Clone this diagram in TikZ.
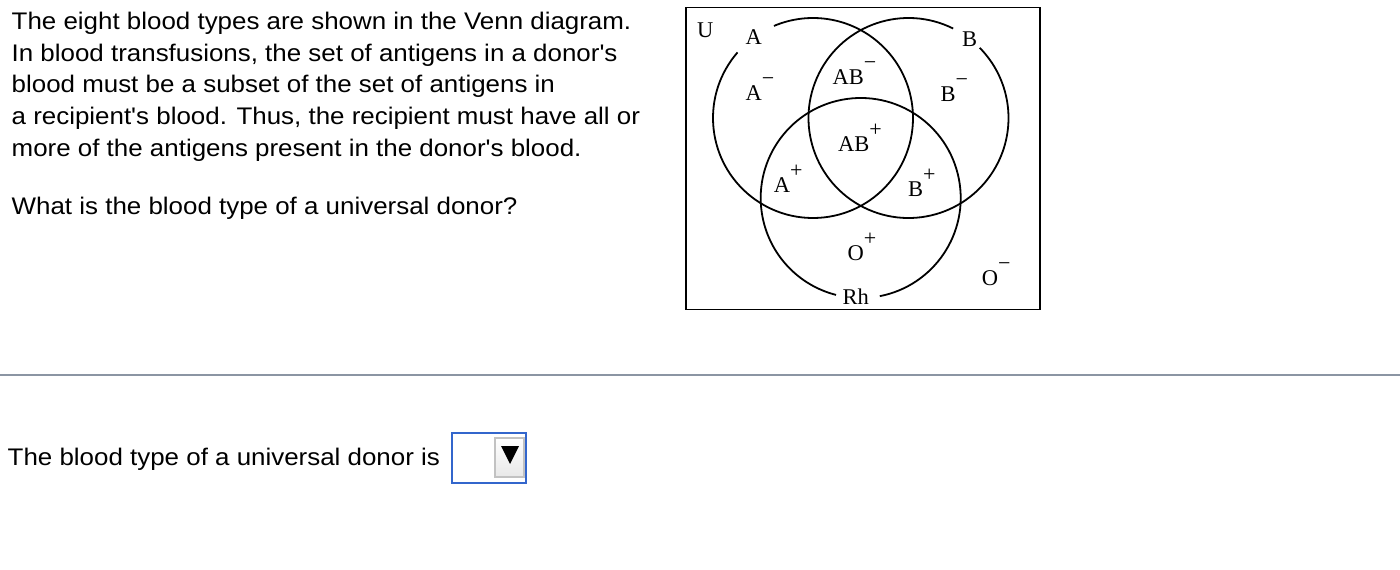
\documentclass[tikz,border=0pt]{standalone}
\usepackage{fontspec}
\usepackage{xcolor}
\newfontfamily\qfont[FakeStretch=1.08]{Liberation Sans}
\newfontfamily\vennfont{Liberation Serif}
\definecolor{ruleGray}{HTML}{8B95A3}
\definecolor{boxBlue}{HTML}{3366CC}
\definecolor{btnGray}{HTML}{C2C2C2}
\usetikzlibrary{arrows.meta,calc}
\newcommand{\vsup}[1]{\raisebox{15pt}{\fontsize{22}{22}\selectfont #1}}
\tikzset{
  qtext/.style={anchor=base west,inner sep=0pt,font=\qfont\fontsize{24}{32}\selectfont},
  vlabel/.style={anchor=base west,inner sep=0pt,font=\vennfont\fontsize{22.5}{24}\selectfont},
  vset/.style={line width=1.8pt}
}

\begin{document}
\begin{tikzpicture}[x=1pt,y=1pt]
        \useasboundingbox (0,0) rectangle (1400,-570);
        \node[qtext] (q1) at (11.5,-29.3) {The eight blood types are shown in the Venn diagram.};
        \node[qtext] (q2) at (11.5,-61) {In blood transfusions, the set of antigens in a donor's};
        \node[qtext] (q3) at (11.5,-92.8) {blood must be a subset of the set of antigens in};
        \node[qtext] (q4) at (11.5,-124.6) {a recipient's blood. Thus, the recipient must have all or};
        \node[qtext] (q5) at (11.5,-156.7) {more of the antigens present in the donor's blood.};
        \node[qtext] (q6) at (11.5,-214.3) {What is the blood type of a universal donor?};
        \draw[line width=1.8pt] (686,-7.5) rectangle (1040,-309.5);
        \coordinate (cA) at (813,-118);
        \coordinate (cB) at (908.5,-118);
        \coordinate (cRh) at (860.7,-198);
        \draw[vset] ($(cA)+(139:100pt)$) arc[start angle=139,end angle=473,radius=100pt];
        \draw[vset] ($(cB)+(63.5:100pt)$) arc[start angle=63.5,end angle=404.6,radius=100pt];
        \draw[vset] ($(cRh)+(281:100pt)$) arc[start angle=281,end angle=615.7,radius=100pt];
        \node[vlabel] (U) at (697,-37.3) {U};
        \node[vlabel] (setA) at (745.5,-44) {A};
        \node[vlabel] (setB) at (962,-46) {B};
        \node[vlabel] (setRh) at (842.3,-304) {Rh};
        \node[vlabel] (Aneg) at (745.5,-100) {A\vsup{−}};
        \node[vlabel] (ABneg) at (832.3,-84.3) {AB\vsup{−}};
        \node[vlabel] (Bneg) at (940.3,-101.7) {B\vsup{−}};
        \node[vlabel] (ABpos) at (838,-151.7) {AB\vsup{+}};
        \node[vlabel] (Apos) at (773.6,-192.7) {A\vsup{+}};
        \node[vlabel] (Bpos) at (908,-196) {B\vsup{+}};
        \node[vlabel] (Opos) at (847.5,-260) {O\vsup{+}};
        \node[vlabel] (Oneg) at (981.6,-285) {O\vsup{−}};
        \draw[ruleGray,line width=2pt] (0,-375) -- (1400,-375);
        \node[qtext] (answer) at (7.5,-465.7) {The blood type of a universal donor is};
        \draw[boxBlue,line width=2pt] (452,-433) rectangle (526,-483);
        \draw[btnGray,line width=1.2pt,top color=white,bottom color=gray!18] (495,-438) rectangle (524,-477);
        \fill (501,-446) -- (519,-446) -- (510,-464) -- cycle;
      \end{tikzpicture}
\end{document}
